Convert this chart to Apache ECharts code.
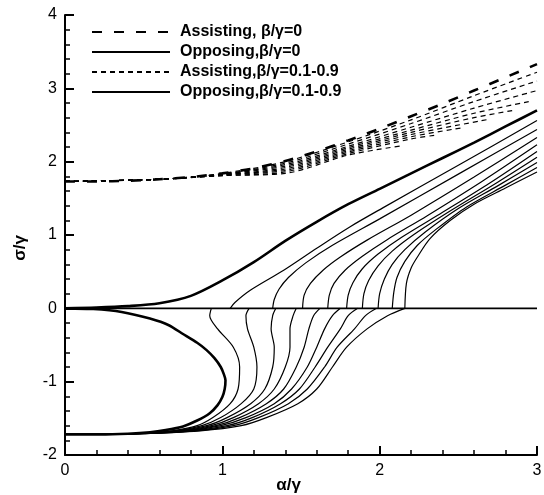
<!DOCTYPE html>
<html><head><meta charset="utf-8">
<script src="https://cdn.jsdelivr.net/npm/echarts@6/dist/echarts.min.js"></script>
<style>html,body{margin:0;padding:0;background:#fff}#c{width:544px;height:495px}</style>
</head><body><div id="c"></div><script>
// ---- data ----
var xTicks = [0, 1, 2, 3];
var yTicks = [-2, -1, 0, 1, 2, 3, 4];
var legendNames = ['Assisting, β/γ=0', 'Opposing,β/γ=0', 'Assisting,β/γ=0.1-0.9', 'Opposing,β/γ=0.1-0.9'];

// Assisting, beta/gamma = 0 (thick dashed)
var assist0X = [0, 0.2, 0.4, 0.6, 0.8, 1.0, 1.2, 1.4, 1.6, 1.8, 2.0, 2.2, 2.4, 2.6, 2.8, 3.0];
var assist0Y = [1.73, 1.73, 1.74, 1.76, 1.79, 1.84, 1.91, 2.01, 2.14, 2.29, 2.45, 2.62, 2.79, 2.97, 3.15, 3.33];

// Assisting, beta/gamma = 0.1..0.9 (thin dashed)
var assistX = [0, 0.6, 1.0, 1.4, 1.8, 2.2, 2.6, 3.0];
var assist1 = [1.73, 1.76, 1.84, 2.00, 2.27, 2.57, 2.90, 3.22];
var assist2 = [1.73, 1.76, 1.83, 1.98, 2.24, 2.52, 2.82, 3.10];
var assist3 = [1.73, 1.76, 1.83, 1.96, 2.21, 2.47, 2.73, 2.97];
var assist4 = [[0,1.73],[0.6,1.76],[1.0,1.83],[1.4,1.94],[1.8,2.19],[2.2,2.43],[2.6,2.66],[2.95,2.82]];
var assist5 = [[0,1.73],[0.6,1.76],[1.0,1.82],[1.4,1.92],[1.8,2.17],[2.2,2.40],[2.6,2.60],[2.85,2.70]];
var assist6 = [[0,1.73],[0.6,1.76],[1.0,1.82],[1.4,1.90],[1.8,2.15],[2.2,2.37],[2.7,2.58]];
var assist7 = [[0,1.73],[0.6,1.76],[1.0,1.82],[1.4,1.88],[1.8,2.13],[2.2,2.34],[2.52,2.46]];
var assist8 = [[0,1.73],[0.6,1.76],[1.0,1.81],[1.4,1.86],[1.8,2.11],[2.2,2.31],[2.35,2.36]];
var assist9 = [[0,1.73],[0.6,1.76],[1.0,1.81],[1.4,1.84],[1.8,2.09],[2.15,2.22]];

// Opposing, beta/gamma = 0 (thick solid)
var opp0UpperX = [0, 0.2, 0.4, 0.6, 0.8, 1.0, 1.2, 1.4, 1.6, 1.8, 2.0, 2.2, 2.4, 2.6, 2.8, 3.0];
var opp0UpperY = [0, 0.01, 0.03, 0.07, 0.17, 0.38, 0.63, 0.92, 1.18, 1.42, 1.63, 1.84, 2.05, 2.26, 2.48, 2.70];
var opp0LowerX = [0, 0.18, 0.36, 0.54, 0.66, 0.75, 0.84, 0.90, 0.95, 0.99, 1.01, 1.02, 1.015, 1.00, 0.97, 0.92, 0.84, 0.75, 0.64, 0.54, 0.40, 0.22, 0];
var opp0LowerY = [0, -0.01, -0.05, -0.14, -0.23, -0.35, -0.47, -0.57, -0.68, -0.80, -0.90, -0.98, -1.10, -1.21, -1.32, -1.43, -1.53, -1.61, -1.66, -1.69, -1.71, -1.72, -1.72];
var zeroLineX = [0, 3];
var zeroLineY = [0, 0];

// Opposing, beta/gamma = 0.1..0.9 : upper branches (x, y)
var oppUp1 = [[1.05,0],[1.08,0.08],[1.18,0.25],[1.39,0.52],[1.6,0.82],[1.81,1.11],[2.02,1.37],[2.5,1.95],[3,2.56]];
var oppUp2 = [[1.32,0],[1.33,0.12],[1.36,0.26],[1.42,0.42],[1.53,0.62],[1.7,0.86],[2.0,1.22],[2.5,1.83],[3,2.44]];
var oppUp3 = [[1.51,0],[1.52,0.18],[1.56,0.34],[1.64,0.52],[1.75,0.70],[1.92,0.93],[2.2,1.27],[2.6,1.79],[3,2.33]];
var oppUp4 = [[1.67,0],[1.68,0.18],[1.71,0.34],[1.78,0.52],[1.89,0.71],[2.05,0.94],[2.3,1.26],[2.65,1.73],[3,2.23]];
var oppUp5 = [[1.79,0],[1.80,0.18],[1.83,0.35],[1.89,0.54],[1.99,0.74],[2.14,0.97],[2.4,1.31],[2.7,1.71],[3,2.14]];
var oppUp6 = [[1.89,0],[1.90,0.2],[1.93,0.38],[1.99,0.58],[2.08,0.78],[2.22,1.01],[2.45,1.33],[2.75,1.72],[3,2.06]];
var oppUp7 = [[1.99,0],[2.0,0.2],[2.03,0.4],[2.08,0.6],[2.16,0.8],[2.29,1.04],[2.5,1.36],[2.75,1.67],[3,1.99]];
var oppUp8 = [[2.08,0],[2.09,0.22],[2.11,0.42],[2.16,0.64],[2.24,0.86],[2.36,1.08],[2.55,1.38],[2.8,1.68],[3,1.92]];
var oppUp9 = [[2.16,0],[2.17,0.34],[2.2,0.55],[2.24,0.70],[2.32,0.95],[2.45,1.2],[2.6,1.42],[2.8,1.64],[3,1.86]];

// Opposing, beta/gamma = 0.1..0.9 : lower branches, x at the shared y levels
var oppLowY = [0, -0.1, -0.28, -0.53, -0.8, -1.1, -1.3, -1.49, -1.6, -1.67, -1.71, -1.72];
var oppLow1 = [0.93, 0.92, 0.97, 1.07, 1.11, 1.10, 1.05, 0.94, 0.84, 0.68, 0.45, 0];
var oppLow2 = [1.17, 1.15, 1.16, 1.20, 1.22, 1.20, 1.12, 0.99, 0.87, 0.70, 0.45, 0];
var oppLow3 = [1.34, 1.32, 1.31, 1.33, 1.32, 1.27, 1.18, 1.03, 0.90, 0.72, 0.45, 0];
var oppLow4 = [1.47, 1.45, 1.43, 1.43, 1.40, 1.33, 1.23, 1.07, 0.93, 0.74, 0.45, 0];
var oppLow5 = [1.62, 1.58, 1.55, 1.52, 1.47, 1.39, 1.28, 1.11, 0.96, 0.76, 0.45, 0];
var oppLow6 = [1.75, 1.70, 1.65, 1.60, 1.54, 1.44, 1.33, 1.15, 0.99, 0.78, 0.45, 0];
var oppLow7 = [1.86, 1.80, 1.75, 1.67, 1.59, 1.49, 1.37, 1.19, 1.03, 0.80, 0.45, 0];
var oppLow8 = [1.98, 1.91, 1.84, 1.73, 1.65, 1.54, 1.42, 1.23, 1.07, 0.83, 0.45, 0];
var oppLow9 = [2.16, 2.05, 1.92, 1.79, 1.70, 1.60, 1.48, 1.28, 1.12, 0.86, 0.45, 0];

// ---- build ----
function zip(xs, ys) { return xs.map(function (x, i) { return [x, ys[i]]; }); }

var FONT = 'Liberation Sans, Arial, sans-serif';
var thick = 2.6, thin = 1.2;
var series = [];
function add(name, data, width, dash, smooth) {
  series.push({
    name: name, type: 'line', data: data, symbol: 'none', smooth: smooth === undefined ? 0.3 : smooth,
    silent: true, animation: false, color: '#000',
    itemStyle: { color: '#000', opacity: 0 },
    lineStyle: { color: '#000', width: width, type: dash || 'solid' }
  });
}
add(legendNames[0], zip(assist0X, assist0Y), thick, [10, 12]);
add(legendNames[1], zip(opp0UpperX, opp0UpperY), thick, null);
add(legendNames[1], zip(opp0LowerX, opp0LowerY), thick, null, 0.2);
add(legendNames[1], zip(zeroLineX, zeroLineY), 1.8, null, false);
[assist1, assist2, assist3].forEach(function (a) { add(legendNames[2], zip(assistX, a), thin, [5, 4]); });
[assist4, assist5, assist6, assist7, assist8, assist9].forEach(function (a) { add(legendNames[2], a, thin, [5, 4]); });
[oppUp1, oppUp2, oppUp3, oppUp4, oppUp5, oppUp6, oppUp7, oppUp8, oppUp9].forEach(function (a) { add(legendNames[3], a, thin, null); });
[oppLow1, oppLow2, oppLow3, oppLow4, oppLow5, oppLow6, oppLow7, oppLow8, oppLow9].forEach(function (a) { add(legendNames[3], zip(a, oppLowY), thin, null); });

var axisCommon = {
  type: 'value',
  axisLine: { show: true, onZero: false, lineStyle: { color: '#000', width: 2 } },
  axisTick: { show: true, inside: true, length: 9, lineStyle: { color: '#000', width: 2 } },
  minorTick: { show: true, splitNumber: 5, length: 5, lineStyle: { color: '#000', width: 1.5 } },
  splitLine: { show: false },
  axisLabel: { color: '#000', fontFamily: FONT, fontSize: 16, margin: 8 }
};

var chart = echarts.init(document.getElementById('c'), null, { renderer: 'canvas' });
chart.setOption({
  animation: false,
  backgroundColor: '#fff',
  grid: { left: 65, right: 7, top: 15, bottom: 40, containLabel: false, outerBoundsMode: 'none' },
  legend: {
    data: legendNames, orient: 'vertical', left: 86, top: 19,
    itemWidth: 78, itemHeight: 14, itemGap: 4,
    itemStyle: { opacity: 0 },
    textStyle: { color: '#000', fontFamily: FONT, fontSize: 16, fontWeight: 'bold', padding: [0, 0, 0, 5] },
    selectedMode: false
  },
  xAxis: Object.assign({}, axisCommon, {
    min: xTicks[0], max: xTicks[xTicks.length - 1], interval: 1,
    name: 'α/γ', nameLocation: 'middle', nameGap: 30, nameMoveOverlap: false,
    nameTextStyle: { color: '#000', fontFamily: FONT, fontSize: 17, fontWeight: 'bold', align: 'right', verticalAlign: 'middle' }
  }),
  yAxis: Object.assign({}, axisCommon, {
    min: yTicks[0], max: yTicks[yTicks.length - 1], interval: 1,
    name: 'σ/γ', nameLocation: 'middle', nameGap: 36, nameRotate: 90, nameMoveOverlap: false,
    nameTextStyle: { color: '#000', fontFamily: FONT, fontSize: 17, fontWeight: 'bold', align: 'right' }
  }),
  series: series
});
</script></body></html>
